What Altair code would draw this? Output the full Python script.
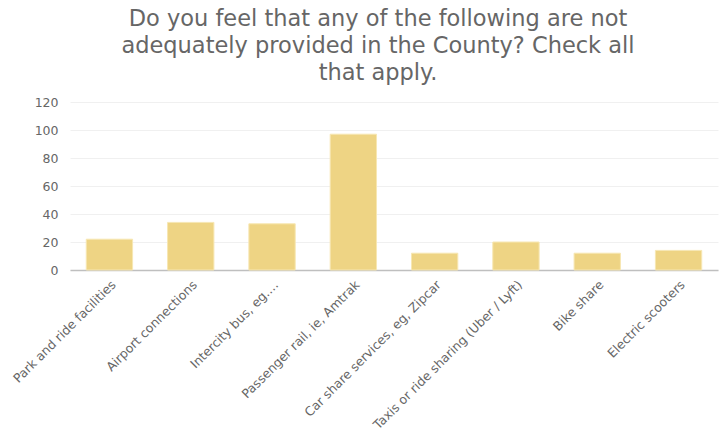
import altair as alt
import pandas as pd

categories = [
    "Park and ride facilities",
    "Airport connections",
    "Intercity bus, eg.…",
    "Passenger rail, ie, Amtrak",
    "Car share services, eg, Zipcar",
    "Taxis or ride sharing (Uber / Lyft)",
    "Bike share",
    "Electric scooters",
]
values = [22, 34, 33, 97, 12, 20, 12, 14]
y_ticks = [0, 20, 40, 60, 80, 100, 120]
title_lines = [
    "Do you feel that any of the following are not",
    "adequately provided in the County? Check all",
    "that apply.",
]

df = pd.DataFrame({"category": categories, "value": values})

FONT = "DejaVu Sans"
GRAY = "#666666"

chart = alt.Chart(df).mark_bar(color="#EED484", stroke="#F7E7B3", strokeWidth=1).encode(
    x=alt.X("category:N", sort=categories, title=None,
            scale=alt.Scale(paddingInner=0.43, paddingOuter=0.2),
            axis=alt.Axis(labelAngle=-45, labelAlign="right", labelBaseline="top",
                          labelFontSize=12.5, labelColor=GRAY, labelFont=FONT,
                          ticks=False, domainColor="#BFBFBF", domainWidth=1.5,
                          labelPadding=8, labelLimit=300)),
    y=alt.Y("value:Q", title=None,
            scale=alt.Scale(domain=[0, 120]),
            axis=alt.Axis(values=y_ticks, labelFontSize=12.5, labelColor=GRAY, labelFont=FONT,
                          ticks=False, domain=False, gridColor="#F0F0F0", gridWidth=1,
                          labelPadding=12)),
).properties(
    width=648,
    height=168,
    title=alt.TitleParams(title_lines, fontSize=22.5, font=FONT, fontWeight="normal",
                          color=GRAY, lineHeight=27, anchor="middle", frame="group",
                          dx=-16, offset=12),
    autosize=alt.AutoSizeParams(type="none"),
    padding={"left": 70, "top": 102, "right": 1, "bottom": 163},
).configure_view(stroke=None)

chart.save("out.html", embed_options={"renderer": "svg", "actions": False})
